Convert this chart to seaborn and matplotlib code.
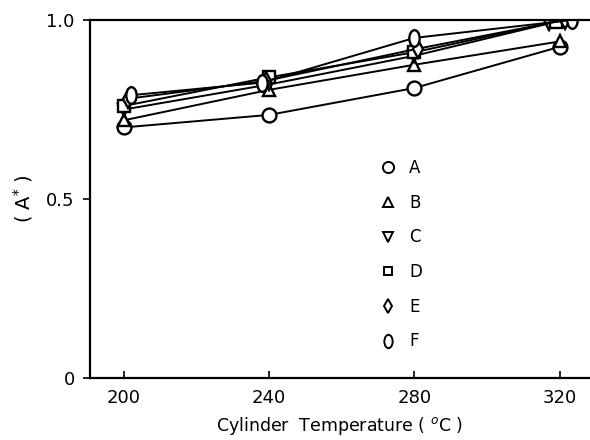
import numpy as np
import pandas as pd
import matplotlib
matplotlib.use("Agg")
import matplotlib.pyplot as plt
import seaborn as sns
from matplotlib.path import Path
from matplotlib.lines import Line2D

# ---- data ----
series = ["A", "B", "C", "D", "E", "F"]
x_A = [200, 240, 280, 320]
y_A = [0.70, 0.735, 0.81, 0.925]
x_B = [200, 240, 280, 320]
y_B = [0.72, 0.805, 0.875, 0.94]
x_C = [200, 240, 280, 317]
y_C = [0.75, 0.82, 0.90, 0.99]
x_D = [200, 240, 280, 319]
y_D = [0.76, 0.84, 0.91, 0.995]
x_E = [201, 239, 281, 321.5]
y_E = [0.78, 0.83, 0.92, 1.0]
x_F = [202, 238, 280, 323.5]
y_F = [0.79, 0.825, 0.95, 1.0]
xs = [x_A, x_B, x_C, x_D, x_E, x_F]
ys = [y_A, y_B, y_C, y_D, y_E, y_F]

xticks = [200, 240, 280, 320]
yticks = [0, 0.5, 1.0]
ytick_labels = ["0", "0.5", "1.0"]

# tall ellipse marker for F
circ = Path.unit_circle()
ell = Path(circ.vertices * np.array([0.62, 1.0]), circ.codes)
markers = ["o", "^", "v", "s", "d", ell]
msizes = [10, 9, 9, 8, 9, 12]

sns.set_style("ticks")
plt.rcParams["font.family"] = ["DejaVu Sans"]
plt.rcParams["text.color"] = "black"
plt.rcParams["axes.labelcolor"] = "black"
plt.rcParams["xtick.color"] = "black"
plt.rcParams["ytick.color"] = "black"

fig = plt.figure(figsize=(5.9, 4.4), dpi=100)
ax = fig.add_axes([90/590, 1 - 378/440, 1 - 90/590, (378 - 20)/440])

for name, x, y, m, ms in zip(series, xs, ys, markers, msizes):
    df = pd.DataFrame({"x": x, "y": y})
    sns.lineplot(data=df, x="x", y="y", ax=ax, color="black", lw=1.4,
                 marker=m, markersize=ms, markerfacecolor="white",
                 markeredgecolor="black", markeredgewidth=1.7,
                 sort=False, estimator=None)

ax.set_xlim(190.6, 328.4)
ax.set_ylim(0, 1.0)
ax.set_xticks(xticks)
ax.set_xticklabels([str(t) for t in xticks], fontsize=13)
ax.set_yticks(yticks)
ax.set_yticklabels(ytick_labels, fontsize=13)
ax.tick_params(axis="x", direction="in", length=5, width=1.2, pad=8)
ax.tick_params(axis="y", direction="out", length=5, width=1.2, pad=6)
ax.spines["right"].set_visible(False)
for s in ["left", "bottom", "top"]:
    ax.spines[s].set_linewidth(1.6)
    ax.spines[s].set_color("black")

ax.set_xlabel("Cylinder  Temperature ( $^{o}$C )", fontsize=12.5, labelpad=6)
ax.set_ylabel("( A$^{*}$ )", fontsize=14, labelpad=8)

handles = [Line2D([], [], ls="none", marker=m, markersize=ms*0.8,
                  markerfacecolor="white", markeredgecolor="black",
                  markeredgewidth=1.4, color="black")
           for m, ms in zip(markers, msizes)]
ax.legend(handles, series, loc="upper left", bbox_to_anchor=(0.565, 0.63),
          frameon=False, fontsize=12, labelspacing=1.0,
          handletextpad=0.8, handlelength=1.0, borderaxespad=0,
          labelcolor="black")

fig.savefig("out.png", dpi=100)
